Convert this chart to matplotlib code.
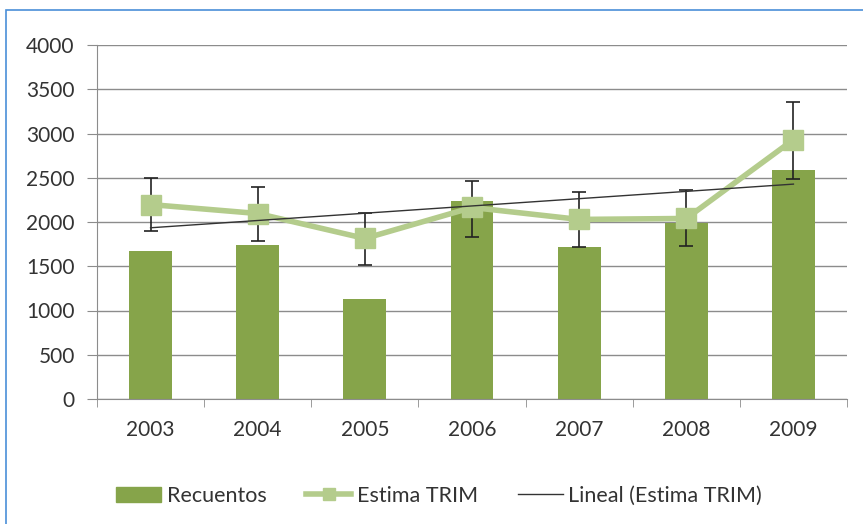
import matplotlib.pyplot as plt
import numpy as np
from matplotlib.patches import Rectangle
from matplotlib.lines import Line2D

plt.rcParams['font.family'] = ['Lato', 'DejaVu Sans']

years = ['2003', '2004', '2005', '2006', '2007', '2008', '2009']
recuentos = [1668, 1745, 1135, 2240, 1712, 1985, 2592]
estima_trim = [2197, 2096, 1814, 2164, 2029, 2040, 2930]
err_low = [1893, 1781, 1510, 1826, 1713, 1724, 2491]
err_high = [2502, 2400, 2107, 2468, 2344, 2367, 3358]

x = np.arange(len(years))
est = np.array(estima_trim)
yerr = [est - np.array(err_low), np.array(err_high) - est]

# linear trend of the TRIM estimate
coef = np.polyfit(x, est, 1)
trend = np.polyval(coef, x)

fig = plt.figure(figsize=(8.63, 5.24), dpi=100)
ax = fig.add_axes([97 / 863, 1 - 399 / 524, 750 / 863, 354 / 524])

bar_col = '#86a44a'
line_col = '#b4cc8c'

ax.bar(x, recuentos, width=0.4, color=bar_col, zorder=2)
ax.errorbar(x, est, yerr=yerr, fmt='none', ecolor='#222222', elinewidth=1.2,
            capsize=5, capthick=1.2, zorder=3)
ax.plot(x, est, color=line_col, lw=4, marker='s', ms=15, mec=line_col,
        mfc=line_col, zorder=4)
ax.plot(x, trend, color='#333333', lw=1, zorder=5)

ax.set_xlim(-0.5, 6.5)
ax.set_ylim(0, 4000)
ax.set_yticks(range(0, 4001, 500))
ax.yaxis.grid(True, color='#8c8c8c', lw=1)
ax.set_axisbelow(True)

ax.set_xticks(x)
ax.set_xticklabels(years)
ax.set_xticks(np.arange(-0.5, 7, 1), minor=True)
ax.tick_params(axis='x', which='major', length=0, pad=15, labelsize=15, labelcolor='#333333')
ax.tick_params(axis='x', which='minor', length=6, color='#8c8c8c')
ax.tick_params(axis='y', length=7, color='#8c8c8c', labelsize=15, labelcolor='#333333', pad=9)

for s in ['top', 'right']:
    ax.spines[s].set_visible(False)
ax.spines['left'].set_color('#8c8c8c')
ax.spines['bottom'].set_color('#8c8c8c')

handles = [
    Rectangle((0, 0), 1, 1, color=bar_col),
    Line2D([], [], color=line_col, lw=4, marker='s', ms=9, mec=line_col),
    Line2D([], [], color='#333333', lw=1),
]
labels = ['Recuentos', 'Estima TRIM', 'Lineal (Estima TRIM)']
fig.legend(handles, labels, loc='center', bbox_to_anchor=(439 / 863, 1 - 496 / 524),
           ncol=3, frameon=False, fontsize=15.5, handlelength=2.1, handletextpad=0.25,
           columnspacing=1.85, labelcolor='#333333')

# blue outline around the chart
fig.add_artist(Rectangle((6 / 863, -0.05), 1.0, 1.05 - 10 / 524,
                         transform=fig.transFigure, fill=False,
                         edgecolor='#4a8fd8', lw=1.2))

fig.savefig('out.png', dpi=100)
